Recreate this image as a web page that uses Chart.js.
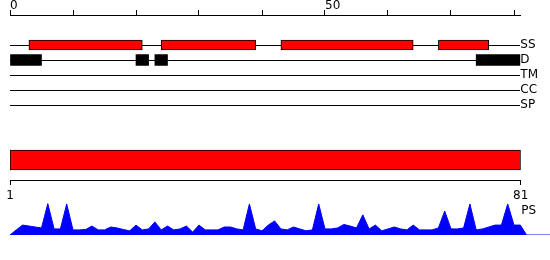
<!DOCTYPE html>
<html>
<head>
<meta charset="utf-8">
<script src="https://cdn.jsdelivr.net/npm/chart.js@4"></script>
<style>
  html, body { margin: 0; padding: 0; background: #fff; }
  #wrap { position: relative; width: 550px; height: 260px; }
  #wrap canvas { position: absolute; left: 0; }
</style>
</head>
<body>
<div id="wrap">
  <canvas id="tracks" width="550" height="115" style="top:0px"></canvas>
  <canvas id="domain" width="550" height="65" style="top:140px"></canvas>
  <canvas id="ps" width="550" height="65" style="top:195px"></canvas>
</div>
<script>
// sequence length and axis labels
const seqLength = 81;
const topTickLabels = [0, 50];
const bottomTickLabels = [1, 81];

// feature tracks (residue ranges)
const trackNames = ['SS', 'D', 'TM', 'CC', 'SP'];
const ssSegments = [[3, 21], [24, 39], [43, 64], [68, 76]];
const disorderSegments = [[0, 5], [20, 22], [23, 25], [74, 81]];
const tmSegments = [];
const ccSegments = [];
const spSegments = [];
const domainSegments = [[1, 81]];

// PS profile, one value per residue 1..81
const psValues = [
  0.16, 0.31, 0.28, 0.25, 0.22, 0.98, 0.19, 0.19, 0.97, 0.16,
  0.16, 0.17, 0.28, 0.16, 0.16, 0.25, 0.22, 0.17, 0.13, 0.31,
  0.16, 0.19, 0.41, 0.16, 0.28, 0.16, 0.19, 0.28, 0.09, 0.31,
  0.16, 0.16, 0.16, 0.25, 0.25, 0.19, 0.16, 0.97, 0.19, 0.13,
  0.31, 0.44, 0.19, 0.16, 0.25, 0.19, 0.13, 0.16, 0.97, 0.19,
  0.19, 0.22, 0.33, 0.28, 0.22, 0.63, 0.19, 0.31, 0.13, 0.19,
  0.25, 0.19, 0.16, 0.31, 0.16, 0.16, 0.16, 0.22, 0.75, 0.19,
  0.19, 0.22, 0.97, 0.16, 0.19, 0.25, 0.31, 0.31, 0.97, 0.31,
  0.31
];

// layout
const PLOT_LEFT = 10;
const TOP_AXIS_END = 520.3;
const BOTTOM_AXIS_END = 520.7;
const FIRST_ROW = 2; // rows 0-1 are taken by the top axis

Chart.defaults.font.family = 'DejaVu Sans';
Chart.defaults.font.size = 12;
Chart.defaults.color = '#000';

const rowOf = name => trackNames.indexOf(name) + FIRST_ROW;
const toBars = (segs, name) => segs.map(s => ({ x: s, y: rowOf(name) }));

// top: ruler + feature tracks
new Chart(document.getElementById('tracks'), {
  type: 'bar',
  data: {
    datasets: [
      { label: 'SS', data: toBars(ssSegments, 'SS'), backgroundColor: '#ff0000', borderColor: '#000', borderWidth: 1, borderSkipped: false, barThickness: 10 },
      { label: 'D', data: toBars(disorderSegments, 'D'), backgroundColor: '#000', borderWidth: 0, barThickness: 11 },
      { label: 'TM', data: toBars(tmSegments, 'TM'), backgroundColor: '#000' },
      { label: 'CC', data: toBars(ccSegments, 'CC'), backgroundColor: '#000' },
      { label: 'SP', data: toBars(spSegments, 'SP'), backgroundColor: '#000' }
    ]
  },
  options: {
    indexAxis: 'y',
    responsive: false,
    animation: false,
    devicePixelRatio: 1,
    datasets: { bar: { grouped: false } },
    layout: { padding: { left: PLOT_LEFT, right: 0, top: 0, bottom: 10 } },
    plugins: { legend: { display: false }, tooltip: { enabled: false } },
    scales: {
      x: {
        type: 'linear',
        position: 'top',
        min: 0,
        max: seqLength,
        ticks: {
          stepSize: 10,
          includeBounds: false,
          autoSkip: false,
          maxRotation: 0,
          align: 'start',
          padding: -3.5,
          callback: v => topTickLabels.includes(v) ? String(v) : ''
        },
        grid: { drawOnChartArea: false, tickLength: 5, color: '#000' },
        border: { color: '#000' },
        afterFit: s => { s.height = 15; }
      },
      y: {
        type: 'linear',
        position: 'right',
        reverse: true,
        offset: false,
        min: 0,
        max: FIRST_ROW + trackNames.length - 1,
        ticks: {
          stepSize: 1,
          padding: 0,
          autoSkip: false,
          callback: v => trackNames[v - FIRST_ROW] ?? ''
        },
        grid: {
          offset: false,
          drawTicks: false,
          color: c => (c.tick && c.tick.value >= FIRST_ROW) ? '#000' : 'rgba(0,0,0,0)'
        },
        border: { display: false },
        afterFit: s => { s.width = 550 - TOP_AXIS_END; }
      }
    }
  }
});

// middle: whole-sequence bar with 1..81 axis
new Chart(document.getElementById('domain'), {
  type: 'bar',
  data: {
    labels: [''],
    datasets: [{ data: domainSegments, backgroundColor: '#ff0000', borderColor: '#000', borderWidth: 1, borderSkipped: false, barThickness: 20 }]
  },
  options: {
    indexAxis: 'y',
    responsive: false,
    animation: false,
    devicePixelRatio: 1,
    layout: { padding: { left: PLOT_LEFT, right: 550 - BOTTOM_AXIS_END, top: 0, bottom: 0 } },
    plugins: { legend: { display: false }, tooltip: { enabled: false } },
    scales: {
      x: {
        type: 'linear',
        position: 'bottom',
        min: bottomTickLabels[0],
        max: bottomTickLabels[1],
        afterBuildTicks: s => { s.ticks = bottomTickLabels.map(v => ({ value: v })); },
        ticks: { autoSkip: false, maxRotation: 0, padding: 3.5 },
        grid: { drawOnChartArea: false, tickLength: 5, color: '#000' },
        border: { color: '#000' },
        afterFit: s => { s.height = 25; }
      },
      y: { display: false }
    }
  }
});

// bottom: PS profile
const psXMax = seqLength * (550 - PLOT_LEFT) / (TOP_AXIS_END - PLOT_LEFT);
const psPoints = [{ x: 0, y: 0 }]
  .concat(psValues.map((v, i) => ({ x: i + 1, y: v })))
  .concat([{ x: psValues.length + 1, y: 0 }, { x: psXMax, y: 0 }]);

const psLabel = {
  id: 'psLabel',
  afterDraw(chart) {
    const ctx = chart.ctx;
    const x = chart.scales.x.getPixelForValue(seqLength) + 1;
    ctx.save();
    ctx.font = '12px "DejaVu Sans"';
    ctx.fillStyle = '#000';
    ctx.textAlign = 'left';
    ctx.textBaseline = 'middle';
    ctx.fillText('PS', x, chart.chartArea.top + 8);
    ctx.restore();
  }
};

new Chart(document.getElementById('ps'), {
  type: 'line',
  data: {
    datasets: [{
      label: 'PS',
      data: psPoints,
      borderColor: '#0000ff',
      backgroundColor: '#0000ff',
      borderWidth: 1,
      fill: 'origin',
      pointRadius: 0,
      tension: 0
    }]
  },
  options: {
    responsive: false,
    animation: false,
    devicePixelRatio: 1,
    layout: { padding: { left: PLOT_LEFT, right: 0, top: 8, bottom: 25 } },
    plugins: { legend: { display: false }, tooltip: { enabled: false } },
    scales: {
      x: { type: 'linear', min: 0, max: psXMax, display: false },
      y: { min: 0, max: 1, display: false }
    }
  },
  plugins: [psLabel]
});
</script>
</body>
</html>
